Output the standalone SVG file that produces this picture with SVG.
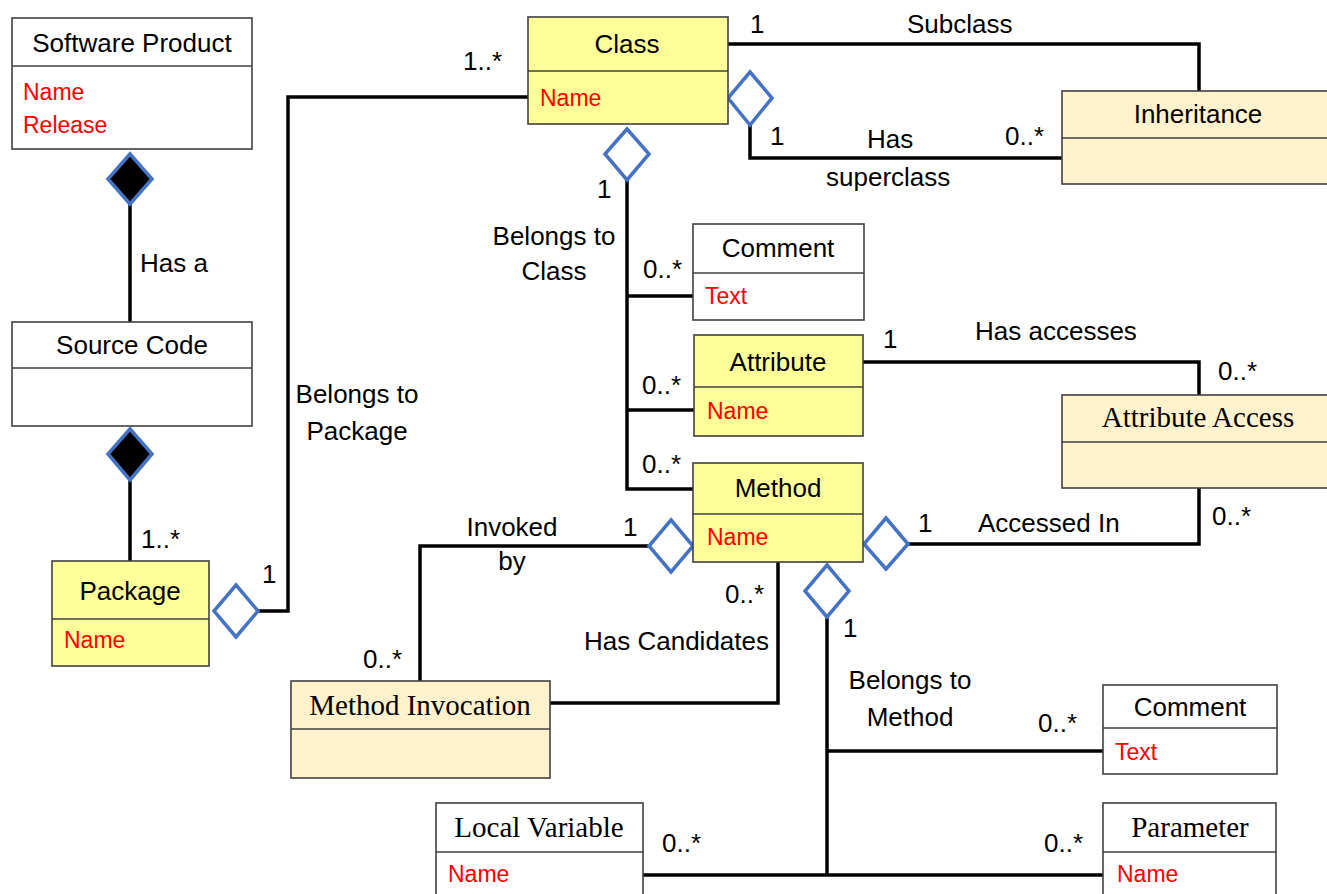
<svg xmlns="http://www.w3.org/2000/svg" width="1327" height="894" viewBox="0 0 1327 894">
<style>
.box{stroke:#404040;stroke-width:1.6}
.w{fill:#ffffff}.y{fill:#ffff99}.o{fill:#fff2cc}
.div{stroke:#404040;stroke-width:1.6}
.t{font-family:"Liberation Sans",Arial,sans-serif;font-size:26px;fill:#000}
.s{font-family:"Liberation Serif","Times New Roman",serif;font-size:29px;fill:#000}
.a{font-family:"Liberation Sans",Arial,sans-serif;font-size:23px;fill:#ff0000}
.c{text-anchor:middle}
.ln{fill:none;stroke:#000;stroke-width:3.5}
.dh{fill:#ffffff;stroke:#4472c4;stroke-width:3.5}
.df{fill:#000;stroke:#4472c4;stroke-width:3.5}
</style>
<rect width="1327" height="894" fill="#ffffff"/>
<g id="connectors">
<line class="ln" x1="130" y1="204" x2="130" y2="322"/>
<line class="ln" x1="130" y1="480" x2="130" y2="561"/>
<polyline class="ln" points="258,611 288,611 288,97 528,97"/>
<polyline class="ln" points="728,44 1199,44 1199,91"/>
<polyline class="ln" points="750,125 750,158 1062,158"/>
<polyline class="ln" points="627,180 627,489 693,489"/>
<line class="ln" x1="627" y1="296" x2="693" y2="296"/>
<line class="ln" x1="627" y1="410" x2="694" y2="410"/>
<polyline class="ln" points="863,362 1199,362 1199,395"/>
<polyline class="ln" points="908,544 1199,544 1199,488"/>
<polyline class="ln" points="648,546 420,546 420,681"/>
<polyline class="ln" points="778,562 778,703 550,703"/>
<line class="ln" x1="827" y1="617" x2="827" y2="875"/>
<line class="ln" x1="827" y1="751" x2="1103" y2="751"/>
<line class="ln" x1="643" y1="875" x2="1103" y2="875"/>
<polygon class="df" points="130,154 152,179 130,204 108,179"/>
<polygon class="df" points="130,429 152,454 130,480 108,454"/>
<polygon class="dh" points="236,585 258,611 236,637 214,611"/>
<polygon class="dh" points="750,72 772,98 750,125 728,98"/>
<polygon class="dh" points="627,129 649,154 627,180 605,154"/>
<polygon class="dh" points="671,520 693,546 671,572 649,546"/>
<polygon class="dh" points="886,518 908,544 886,569 864,544"/>
<polygon class="dh" points="827,565 849,591 827,617 805,591"/>
<text class="t" x="140" y="272">Has a</text>
<text class="t" x="141" y="548">1..*</text>
<text class="t" x="262" y="583">1</text>
<text class="t c" x="357" y="403">Belongs to</text>
<text class="t c" x="357" y="440">Package</text>
<text class="t" x="463" y="70">1..*</text>
<text class="t" x="750" y="33">1</text>
<text class="t" x="907" y="33">Subclass</text>
<text class="t" x="770" y="145">1</text>
<text class="t" x="867" y="148">Has</text>
<text class="t" x="826" y="186">superclass</text>
<text class="t" x="1005" y="145">0..*</text>
<text class="t" x="597" y="198">1</text>
<text class="t c" x="554" y="245">Belongs to</text>
<text class="t c" x="554" y="280">Class</text>
<text class="t" x="643" y="278">0..*</text>
<text class="t" x="642" y="394">0..*</text>
<text class="t" x="642" y="473">0..*</text>
<text class="t" x="883" y="348">1</text>
<text class="t" x="975" y="340">Has accesses</text>
<text class="t" x="1218" y="380">0..*</text>
<text class="t" x="918" y="532">1</text>
<text class="t" x="978" y="532">Accessed In</text>
<text class="t" x="1212" y="525">0..*</text>
<text class="t c" x="512" y="536">Invoked</text>
<text class="t c" x="512" y="570">by</text>
<text class="t" x="623" y="536">1</text>
<text class="t" x="725" y="603">0..*</text>
<text class="t" x="769" y="650" text-anchor="end">Has Candidates</text>
<text class="t" x="363" y="668">0..*</text>
<text class="t" x="843" y="637">1</text>
<text class="t c" x="910" y="689">Belongs to</text>
<text class="t c" x="910" y="726">Method</text>
<text class="t" x="1038" y="732">0..*</text>
<text class="t" x="662" y="852">0..*</text>
<text class="t" x="1044" y="852">0..*</text>
</g>
<g id="software-product">
<rect class="box w" x="12" y="18" width="240" height="131"/>
<line class="div" x1="12" y1="66" x2="252" y2="66"/>
<text class="t c" x="132" y="52">Software Product</text>
<text class="a" x="23" y="100">Name</text>
<text class="a" x="23" y="133">Release</text>
</g>
<g id="source-code">
<rect class="box w" x="12" y="322" width="240" height="104"/>
<line class="div" x1="12" y1="368" x2="252" y2="368"/>
<text class="t c" x="132" y="354">Source Code</text>
</g>
<g id="package">
<rect class="box y" x="52" y="561" width="157" height="105"/>
<line class="div" x1="52" y1="619" x2="209" y2="619"/>
<text class="t c" x="130" y="600">Package</text>
<text class="a" x="64" y="648">Name</text>
</g>
<g id="class">
<rect class="box y" x="528" y="17" width="200" height="107"/>
<line class="div" x1="528" y1="71" x2="728" y2="71"/>
<text class="t c" x="627" y="53">Class</text>
<text class="a" x="540" y="106">Name</text>
</g>
<g id="inheritance">
<rect class="box o" x="1062" y="91" width="280" height="93"/>
<line class="div" x1="1062" y1="138" x2="1342" y2="138"/>
<text class="t c" x="1198" y="123">Inheritance</text>
</g>
<g id="comment-class">
<rect class="box w" x="693" y="224" width="171" height="96"/>
<line class="div" x1="693" y1="273" x2="864" y2="273"/>
<text class="t c" x="778" y="257">Comment</text>
<text class="a" x="705" y="304">Text</text>
</g>
<g id="attribute">
<rect class="box y" x="694" y="335" width="169" height="101"/>
<line class="div" x1="694" y1="387" x2="863" y2="387"/>
<text class="t c" x="778" y="371">Attribute</text>
<text class="a" x="707" y="419">Name</text>
</g>
<g id="attribute-access">
<rect class="box o" x="1062" y="395" width="280" height="93"/>
<line class="div" x1="1062" y1="442" x2="1342" y2="442"/>
<text class="s c" x="1198" y="427">Attribute Access</text>
</g>
<g id="method">
<rect class="box y" x="693" y="463" width="170" height="99"/>
<line class="div" x1="693" y1="514" x2="863" y2="514"/>
<text class="t c" x="778" y="497">Method</text>
<text class="a" x="707" y="545">Name</text>
</g>
<g id="method-invocation">
<rect class="box o" x="291" y="681" width="259" height="97"/>
<line class="div" x1="291" y1="729" x2="550" y2="729"/>
<text class="s c" x="420" y="715">Method Invocation</text>
</g>
<g id="comment-method">
<rect class="box w" x="1103" y="685" width="174" height="89"/>
<line class="div" x1="1103" y1="728" x2="1277" y2="728"/>
<text class="t c" x="1190" y="716">Comment</text>
<text class="a" x="1115" y="760">Text</text>
</g>
<g id="local-variable">
<rect class="box w" x="436" y="803" width="207" height="100"/>
<line class="div" x1="436" y1="852" x2="643" y2="852"/>
<text class="s c" x="539" y="837">Local Variable</text>
<text class="a" x="448" y="882">Name</text>
</g>
<g id="parameter">
<rect class="box w" x="1103" y="803" width="173" height="100"/>
<line class="div" x1="1103" y1="852" x2="1276" y2="852"/>
<text class="s c" x="1190" y="837">Parameter</text>
<text class="a" x="1117" y="882">Name</text>
</g>
</svg>
